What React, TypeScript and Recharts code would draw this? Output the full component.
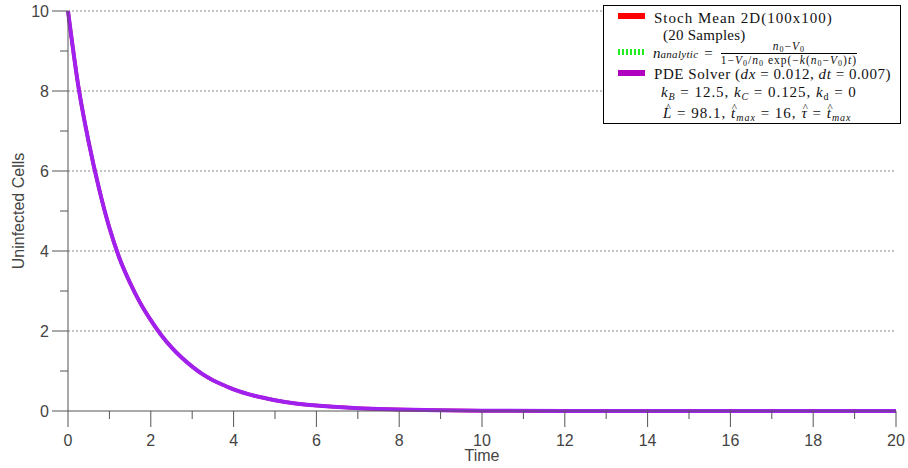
import { Line, LineChart, ReferenceLine, XAxis, YAxis } from "recharts";

// time samples and mean uninfected cell count (the three models coincide)
const TIME = [
  0, 0.25, 0.5, 0.75, 1, 1.25, 1.5, 1.75, 2, 2.25, 2.5, 2.75, 3, 3.25, 3.5,
  3.75, 4, 4.5, 5, 5.5, 6, 6.5, 7, 7.5, 8, 9, 10, 12, 14, 16, 18, 20,
];
const STOCH_MEAN = [
  10, 8.12, 6.72, 5.56, 4.58, 3.8, 3.2, 2.69, 2.27, 1.9, 1.59, 1.33, 1.11,
  0.92, 0.77, 0.65, 0.54, 0.38, 0.27, 0.19, 0.137, 0.098, 0.07, 0.05, 0.035,
  0.018, 0.009, 0.002, 0.001, 0, 0, 0,
];
const ANALYTIC = [
  10, 8.12, 6.72, 5.56, 4.58, 3.8, 3.2, 2.69, 2.27, 1.9, 1.59, 1.33, 1.11,
  0.92, 0.77, 0.65, 0.54, 0.38, 0.27, 0.19, 0.137, 0.098, 0.07, 0.05, 0.035,
  0.018, 0.009, 0.002, 0.001, 0, 0, 0,
];
const PDE = [
  10, 8.12, 6.72, 5.56, 4.58, 3.8, 3.2, 2.69, 2.27, 1.9, 1.59, 1.33, 1.11,
  0.92, 0.77, 0.65, 0.54, 0.38, 0.27, 0.19, 0.137, 0.098, 0.07, 0.05, 0.035,
  0.018, 0.009, 0.002, 0.001, 0, 0, 0,
];

const X_TICKS = [
  0, 1, 2, 3, 4, 5, 6, 7, 8, 9, 10, 11, 12, 13, 14, 15, 16, 17, 18, 19, 20,
];
const Y_TICKS = [0, 1, 2, 3, 4, 5, 6, 7, 8, 9, 10];
const GRID_LEVELS = [2, 4, 6, 8, 10];

const data = TIME.map((t, i) => ({
  t,
  stoch: STOCH_MEAN[i],
  analytic: ANALYTIC[i],
  pde: PDE[i],
}));

const AXIS = "#555";
const LABEL = "#444";
const SANS = "'Liberation Sans', Arial, sans-serif";
const SERIF = "'Liberation Serif', 'DejaVu Serif', serif";

// even values get a long tick and a label, odd ones a short tick only
function TimeTick(props: any) {
  const { x, y, payload } = props;
  const major = payload.value % 2 === 0;
  return (
    <g>
      <line x1={x} x2={x} y1={y} y2={y + (major ? 16 : 8)} stroke={AXIS} />
      {major && (
        <text
          x={x}
          y={y + 35}
          textAnchor="middle"
          fontSize={16}
          fontFamily={SANS}
          fill={LABEL}
        >
          {payload.value}
        </text>
      )}
    </g>
  );
}

function CellsTick(props: any) {
  const { x, y, payload } = props;
  const major = payload.value % 2 === 0;
  return (
    <g>
      <line x1={x} x2={x - (major ? 16 : 8)} y1={y} y2={y} stroke={AXIS} />
      {major && (
        <text
          x={x - 19}
          y={y + 6}
          textAnchor="end"
          fontSize={16}
          fontFamily={SANS}
          fill={LABEL}
        >
          {payload.value}
        </text>
      )}
    </g>
  );
}

const it = { fontStyle: "italic" } as const;
const sub = (size: number, italic = false): React.CSSProperties => ({
  fontSize: size,
  lineHeight: 0,
  verticalAlign: "-0.3em",
  fontStyle: italic ? "italic" : "normal",
});

function Zero() {
  return <span style={sub(8)}>0</span>;
}

// italic symbol with a small circumflex drawn just above it
function Hat({ children }: { children: React.ReactNode }) {
  return (
    <span style={{ position: "relative", display: "inline-block", ...it }}>
      {children}
      <span
        style={{
          position: "absolute",
          left: "50%",
          top: -1,
          transform: "translateX(-35%)",
          fontStyle: "normal",
          fontSize: 11,
          lineHeight: "8px",
          letterSpacing: 0,
        }}
      >
        ^
      </span>
    </span>
  );
}

function AnalyticFormula() {
  return (
    <div
      style={{
        position: "absolute",
        top: 37,
        left: 49,
        height: 21,
        display: "flex",
        alignItems: "center",
        whiteSpace: "nowrap",
      }}
    >
      <span style={it}>n</span>
      <span style={{ ...sub(11, true), letterSpacing: 0.3 }}>analytic</span>
      <span style={{ margin: "0 8px 0 6px" }}>=</span>
      <span
        style={{
          display: "inline-flex",
          flexDirection: "column",
          alignItems: "center",
          fontSize: 11.5,
          lineHeight: "9px",
          letterSpacing: 1.0,
        }}
      >
        <span style={{ paddingBottom: 2 }}>
          <span style={it}>n</span>
          <Zero />−<span style={it}>V</span>
          <Zero />
        </span>
        <span style={{ borderTop: "1px solid #000", paddingTop: 2 }}>
          1−<span style={it}>V</span>
          <Zero />/<span style={it}>n</span>
          <Zero /> exp(−<span style={it}>k</span>(<span style={it}>n</span>
          <Zero />−<span style={it}>V</span>
          <Zero />)<span style={it}>t</span>)
        </span>
      </span>
    </div>
  );
}

function LegendBox() {
  const row = (top: number, left: number, ls: number): React.CSSProperties => ({
    position: "absolute",
    top,
    left,
    whiteSpace: "nowrap",
    lineHeight: "18px",
    letterSpacing: ls,
  });
  const swatch = (top: number, bg: string): React.CSSProperties => ({
    position: "absolute",
    left: 14,
    top,
    width: 27,
    height: 6,
    background: bg,
  });
  return (
    <div
      style={{
        position: "absolute",
        left: 603,
        top: 5,
        width: 296,
        height: 117,
        border: "1px solid #000",
        background: "#fff",
        fontFamily: SERIF,
        fontSize: 15,
        color: "#111",
      }}
    >
      <div style={swatch(7, "#ff0000")} />
      <div style={row(3, 50, 1.0)}>Stoch Mean 2D(100x100)</div>
      <div style={row(20, 59, 0.25)}>(20 Samples)</div>

      <div
        style={{
          ...swatch(43, "transparent"),
          backgroundImage:
            "repeating-linear-gradient(90deg, #22ee22 0 2.5px, transparent 2.5px 4px)",
        }}
      />
      <AnalyticFormula />

      <div style={swatch(64, "#b000c0")} />
      <div style={row(59, 50, 0.55)}>
        PDE Solver (<span style={it}>dx</span> = 0.012,{" "}
        <span style={it}>dt</span> = 0.007)
      </div>
      <div style={row(77, 57, 0.95)}>
        <span style={it}>k</span>
        <span style={sub(10, true)}>B</span> = 12.5,{" "}
        <span style={it}>k</span>
        <span style={sub(10, true)}>C</span> = 0.125,{" "}
        <span style={it}>k</span>
        <span style={sub(10)}>d</span> = 0
      </div>
      <div style={row(98, 59, 1.0)}>
        <Hat>L</Hat> = 98.1, <Hat>t</Hat>
        <span style={sub(10, true)}>max</span> = 16, <Hat>τ</Hat> ={" "}
        <Hat>t</Hat>
        <span style={sub(10, true)}>max</span>
      </div>
    </div>
  );
}

export default function App() {
  return (
    <div
      style={{
        position: "absolute",
        left: 0,
        top: 0,
        width: 908,
        height: 468,
        background: "#fff",
      }}
    >
      <LineChart
        width={908}
        height={468}
        data={data}
        margin={{ top: 11, right: 12, bottom: 4, left: 8 }}
      >
        {GRID_LEVELS.map((v) => (
          <ReferenceLine
            key={v}
            y={v}
            stroke="#888"
            strokeDasharray="2 2"
            ifOverflow="extendDomain"
          />
        ))}
        <XAxis
          dataKey="t"
          type="number"
          domain={[0, 20]}
          ticks={X_TICKS}
          interval={0}
          height={53}
          tickSize={0}
          tickMargin={0}
          tickLine={false}
          axisLine={{ stroke: AXIS }}
          tick={<TimeTick />}
          label={{
            value: "Time",
            position: "insideBottom",
            offset: 3,
            fontSize: 16,
            fontFamily: SANS,
            fill: LABEL,
          }}
        />
        <YAxis
          type="number"
          domain={[0, 10]}
          ticks={Y_TICKS}
          interval={0}
          width={60}
          tickSize={0}
          tickMargin={0}
          tickLine={false}
          axisLine={{ stroke: AXIS }}
          tick={<CellsTick />}
          label={{
            value: "Uninfected Cells",
            angle: -90,
            position: "insideLeft",
            offset: 10,
            style: { textAnchor: "middle" },
            fontSize: 16,
            fontFamily: SANS,
            fill: LABEL,
          }}
        />
        <Line
          dataKey="stoch"
          type="monotone"
          stroke="#ff0000"
          strokeWidth={3.5}
          dot={false}
          isAnimationActive={false}
        />
        <Line
          dataKey="analytic"
          type="monotone"
          stroke="#22ee22"
          strokeWidth={3}
          strokeDasharray="2 2"
          dot={false}
          isAnimationActive={false}
        />
        <Line
          dataKey="pde"
          type="monotone"
          stroke="#a020f0"
          strokeWidth={4}
          dot={false}
          isAnimationActive={false}
        />
      </LineChart>
      <LegendBox />
    </div>
  );
}
